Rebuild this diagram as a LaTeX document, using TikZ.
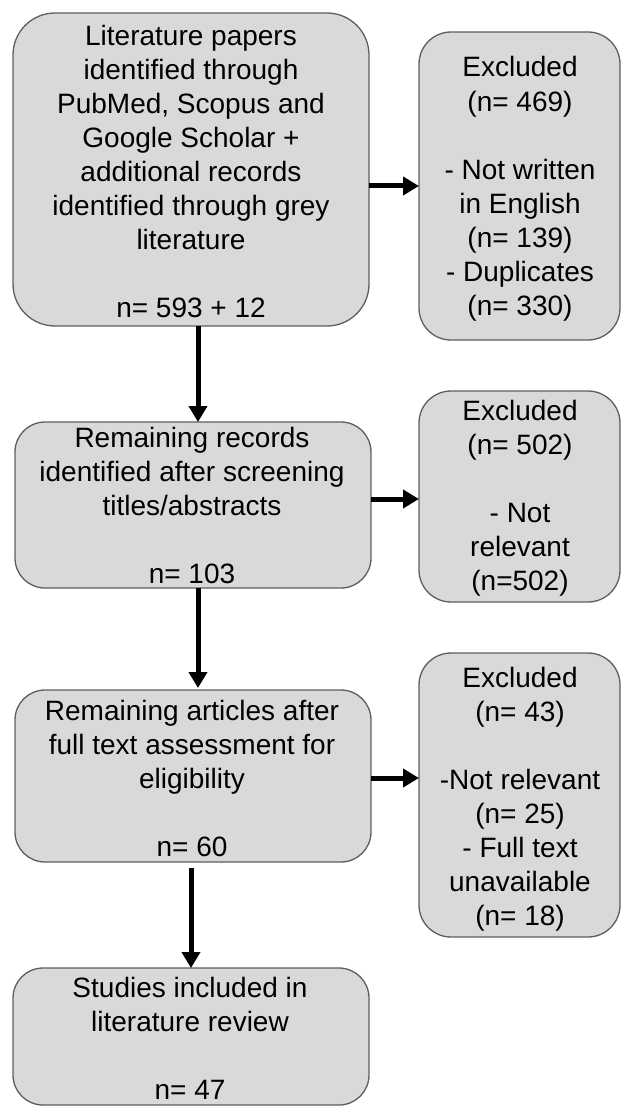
\documentclass[tikz,border=0pt]{standalone}
\usepackage{fontspec}
\setmainfont{Liberation Sans}
\usetikzlibrary{arrows.meta}
\definecolor{boxfill}{HTML}{D9D9D9}
\definecolor{boxline}{HTML}{5E5E5E}
\begin{document}
\begin{tikzpicture}[x=1pt,y=-1pt,
  box/.style={draw=boxline,fill=boxfill,line width=1.3pt,rounded corners=#1,inner sep=0pt,outer sep=0pt},
  txt/.style={align=center,inner sep=0pt,anchor=base,font=\fontsize{28pt}{34pt}\selectfont},
  arr/.style={line width=5pt,-{Triangle[width=18pt,length=16pt]}}]
\useasboundingbox (0,0) rectangle (621,1107);
% boxes
\node[box=42pt,minimum width=356pt,minimum height=313pt] (A) at (191,169.5) {};
\node[box=32pt,minimum width=201pt,minimum height=308pt] (E1) at (519.5,186) {};
\node[box=30pt,minimum width=356pt,minimum height=166pt] (B) at (193,505) {};
\node[box=32pt,minimum width=201pt,minimum height=211pt] (E2) at (519.5,496.5) {};
\node[box=30pt,minimum width=356pt,minimum height=172pt] (C) at (193,776) {};
\node[box=32pt,minimum width=201pt,minimum height=284pt] (E3) at (519.5,795) {};
\node[box=30pt,minimum width=356pt,minimum height=137pt] (D) at (191,1036.5) {};
% texts (anchored at the baseline of the last line)
\node[txt] (tA) at (191,317) {Literature papers\\identified through\\PubMed, Scopus and\\Google Scholar +\\additional records\\identified through grey\\literature\\\mbox{}\\n= 593 + 12};
\node[txt] (tE1) at (520,315) {Excluded\\(n= 469)\\\mbox{}\\- Not written\\in English\\(n= 139)\\- Duplicates\\(n= 330)};
\node[txt] (tB) at (192,583) {Remaining records\\identified after screening\\titles/abstracts\\\mbox{}\\n= 103};
\node[txt] (tE2) at (520,590) {Excluded\\(n= 502)\\\mbox{}\\- Not\\relevant\\(n=502)};
\node[txt] (tC) at (192,856) {Remaining articles after\\full text assessment for\\eligibility\\\mbox{}\\n= 60};
\node[txt] (tE3) at (520,925) {Excluded\\(n= 43)\\\mbox{}\\-Not relevant\\(n= 25)\\- Full text\\unavailable\\(n= 18)};
\node[txt] (tD) at (190,1099) {Studies included in\\literature review\\\mbox{}\\n= 47};
% connectors
\draw[arr] ([xshift=7pt]A.south) -- ([xshift=7pt]A.south |- B.north);
\draw[arr] ([xshift=5pt]B.south) -- ([xshift=5pt,yshift=2pt]B.south |- C.north);
\draw[arr] ([xshift=-2pt,yshift=-6pt]C.south) -- ([xshift=-2pt]C.south |- D.north);
\draw[arr] ([yshift=-16.5pt]A.east) -- ([yshift=-16.5pt]A.east -| E1.west);
\draw[arr] ([yshift=6pt]B.east) -- ([yshift=6pt]B.east -| E2.west);
\draw[arr] ([yshift=-2pt]C.east) -- ([yshift=-2pt]C.east -| E3.west);
\end{tikzpicture}
\end{document}
